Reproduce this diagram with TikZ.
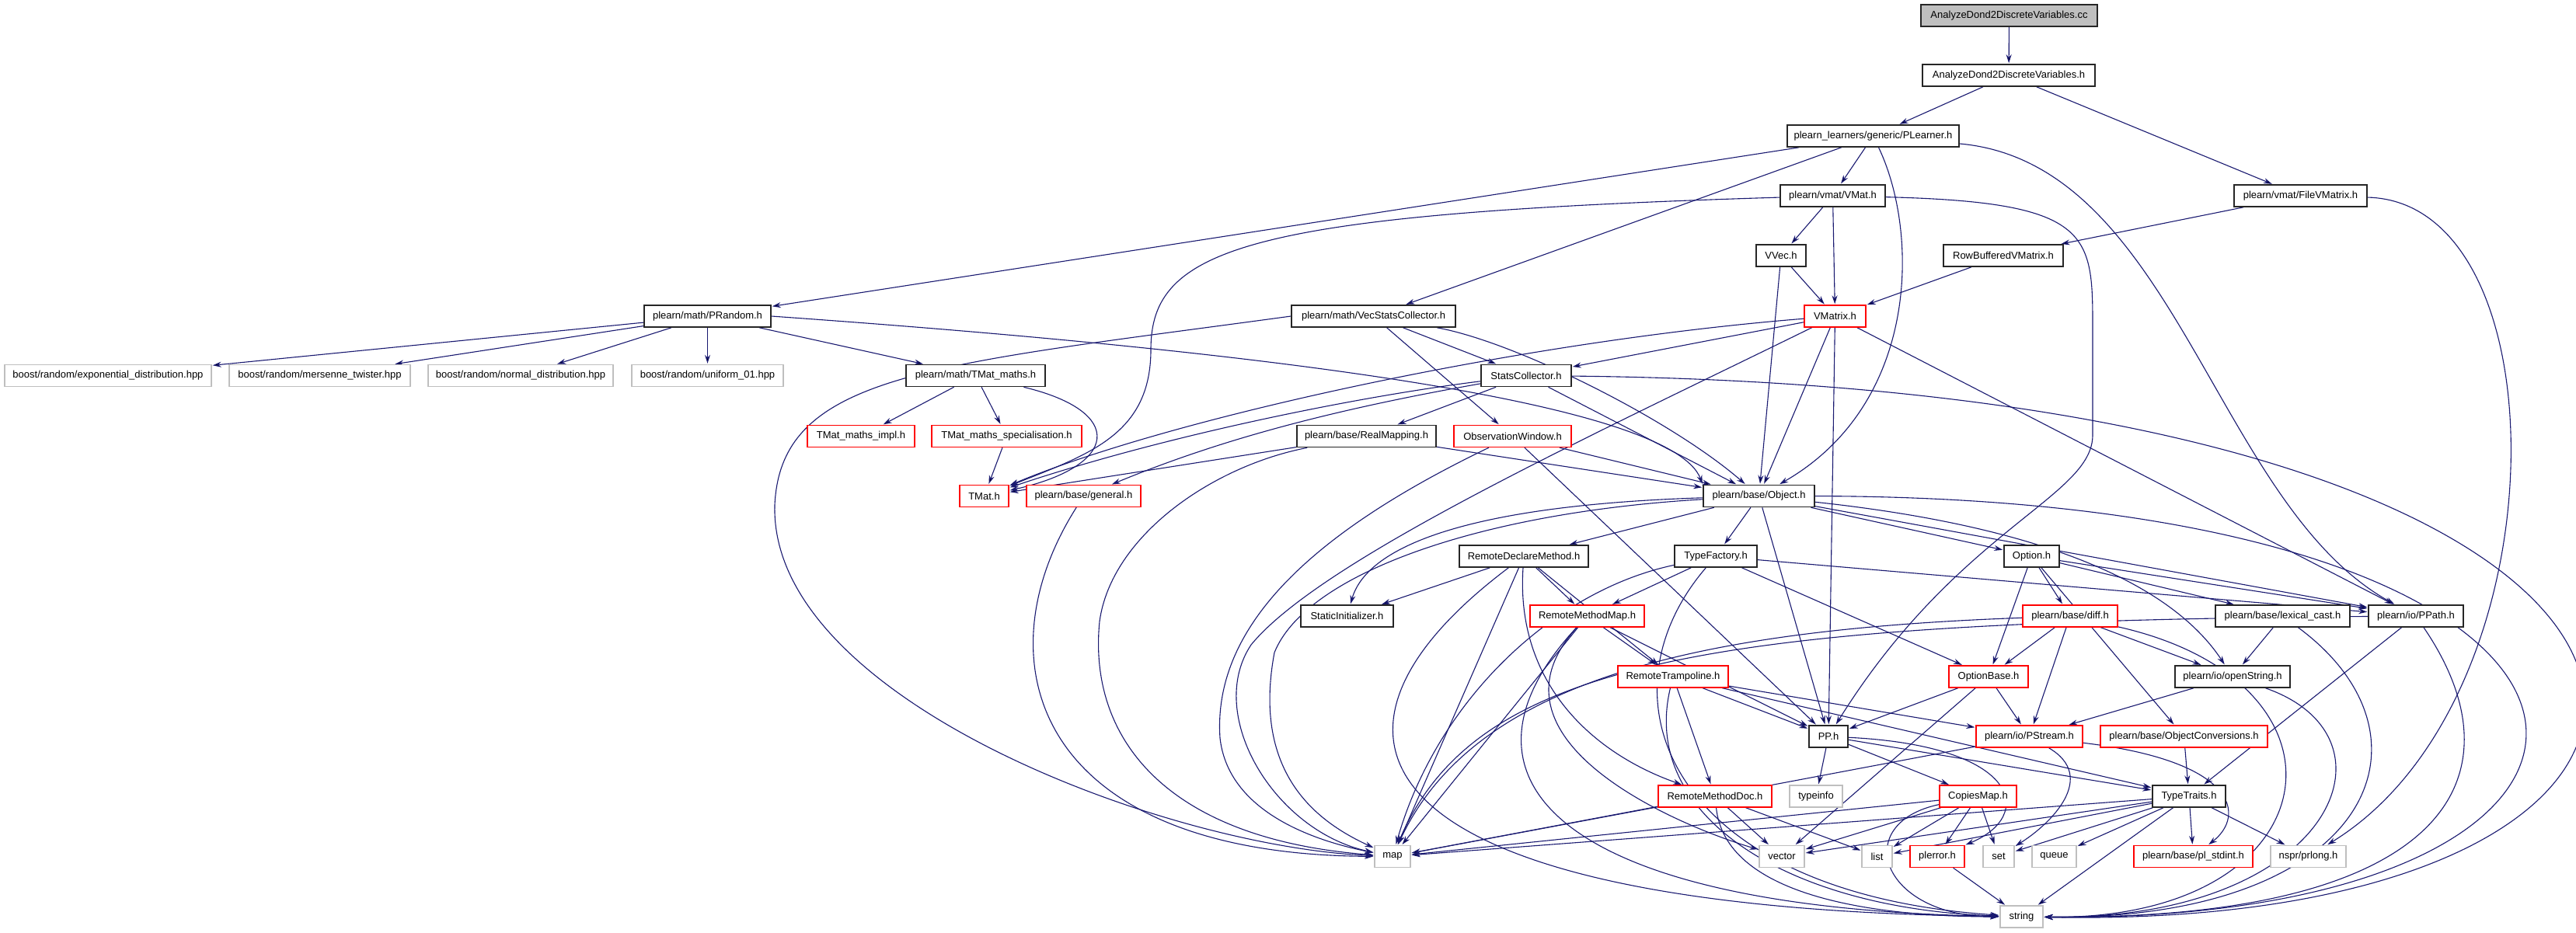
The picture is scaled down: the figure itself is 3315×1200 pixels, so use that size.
\documentclass[tikz,border=0pt]{standalone}
\usepackage{fontspec}
\setmainfont{Liberation Sans}
\usetikzlibrary{arrows.meta}
\definecolor{incblue}{RGB}{25,25,112}
\definecolor{sysgray}{RGB}{191,191,191}
\pgfdeclarelayer{edges}
\pgfsetlayers{edges,main}
\tikzstyle{every picture}=[x=1pt, y=1pt, >={Stealth[length=11pt,width=7pt]}, shorten >=1pt]
\tikzstyle{file}=[rectangle, draw=black!85, fill=white, line width=1.6pt, minimum height=28pt, inner sep=0pt,%
	font=\fontsize{13}{15}\selectfont]
\tikzstyle{redfile}=[file, draw=red, line width=1.4pt]
\tikzstyle{sysfile}=[file, draw=sysgray, line width=1.4pt]
\tikzstyle{rootfile}=[file, fill=sysgray]
\tikzstyle{inc}=[->, draw=incblue, line width=1.1pt]

\begin{document}
\begin{tikzpicture}
\useasboundingbox (0,0) rectangle (3315,-1200);
\node[rootfile, minimum width=227pt] (cc) at (2585.5,-20) {AnalyzeDond2DiscreteVariables.cc};
\node[file, minimum width=222pt] (dondh) at (2585,-97) {AnalyzeDond2DiscreteVariables.h};
\node[file, minimum width=221pt] (plearner) at (2410.5,-175) {plearn\_learners/generic/PLearner.h};
\node[file, minimum width=135pt] (vmat) at (2358.5,-252) {plearn/vmat/VMat.h};
\node[file, minimum width=171pt] (filevmat) at (2960.5,-252) {plearn/vmat/FileVMatrix.h};
\node[file, minimum width=64pt] (vvec) at (2292,-329) {VVec.h};
\node[file, minimum width=154pt] (rowbuf) at (2578,-329) {RowBufferedVMatrix.h};
\node[file, minimum width=163pt] (prandom) at (910.5,-407) {plearn/math/PRandom.h};
\node[file, minimum width=211pt] (vecstats) at (1767.5,-407) {plearn/math/VecStatsCollector.h};
\node[redfile, minimum width=79pt] (vmatrix) at (2361.5,-407) {VMatrix.h};
\node[sysfile, minimum width=266pt] (bexp) at (139,-483.5) {boost/random/exponential\_distribution.hpp};
\node[sysfile, minimum width=233pt] (bmt) at (411.5,-483.5) {boost/random/mersenne\_twister.hpp};
\node[sysfile, minimum width=238pt] (bnorm) at (670,-483.5) {boost/random/normal\_distribution.hpp};
\node[sysfile, minimum width=195pt] (bunif) at (910.5,-483.5) {boost/random/uniform\_01.hpp};
\node[file, minimum width=179pt] (tmatmaths) at (1255.5,-483.5) {plearn/math/TMat\_maths.h};
\node[file, minimum width=116pt] (stats) at (1964,-483.5) {StatsCollector.h};
\node[redfile, minimum width=138pt] (tmatimpl) at (1108,-561.5) {TMat\_maths\_impl.h};
\node[redfile, minimum width=193pt] (tmatspec) at (1295.5,-561.5) {TMat\_maths\_specialisation.h};
\node[file, minimum width=179pt] (realmap) at (1758.5,-561.5) {plearn/base/RealMapping.h};
\node[redfile, minimum width=151pt] (obswin) at (1946.5,-561.5) {ObservationWindow.h};
\node[redfile, minimum width=63pt] (tmat) at (1266.5,-638.5) {TMat.h};
\node[redfile, minimum width=147pt] (general) at (1394.5,-638.5) {plearn/base/general.h};
\node[file, minimum width=143pt] (object) at (2263.5,-638.5) {plearn/base/Object.h};
\node[file, minimum width=166pt] (rdm) at (1961,-716) {RemoteDeclareMethod.h};
\node[file, minimum width=106pt] (typefac) at (2208,-716) {TypeFactory.h};
\node[file, minimum width=71pt] (option) at (2614.5,-716) {Option.h};
\node[file, minimum width=119pt] (staticinit) at (1733.5,-793) {StaticInitializer.h};
\node[redfile, minimum width=147pt] (rmmap) at (2042.5,-793) {RemoteMethodMap.h};
\node[redfile, minimum width=122pt] (diff) at (2664,-793) {plearn/base/diff.h};
\node[file, minimum width=173pt] (lexcast) at (2937.5,-793) {plearn/base/lexical\_cast.h};
\node[file, minimum width=122pt] (ppath) at (3109,-793) {plearn/io/PPath.h};
\node[redfile, minimum width=142pt] (rtramp) at (2153,-871) {RemoteTrampoline.h};
\node[redfile, minimum width=102pt] (optbase) at (2559,-871) {OptionBase.h};
\node[file, minimum width=148pt] (openstr) at (2873,-871) {plearn/io/openString.h};
\node[file, minimum width=50pt] (pp) at (2353,-948) {PP.h};
\node[redfile, minimum width=137pt] (pstream) at (2611.5,-948) {plearn/io/PStream.h};
\node[redfile, minimum width=215pt] (objconv) at (2810.5,-948) {plearn/base/ObjectConversions.h};
\node[redfile, minimum width=146pt] (rmdoc) at (2207,-1025) {RemoteMethodDoc.h};
\node[sysfile, minimum width=68pt] (typeinfo) at (2337,-1025) {typeinfo};
\node[redfile, minimum width=99pt] (copiesmap) at (2545.5,-1025) {CopiesMap.h};
\node[file, minimum width=94pt] (typetraits) at (2817,-1025) {TypeTraits.h};
\node[sysfile, minimum width=46pt] (map) at (1792,-1102.5) {map};
\node[sysfile, minimum width=58pt] (vector) at (2293,-1102.5) {vector};
\node[sysfile, minimum width=39pt] (list) at (2415.5,-1102.5) {list};
\node[redfile, minimum width=70pt] (plerror) at (2493,-1102.5) {plerror.h};
\node[sysfile, minimum width=40pt] (set) at (2572,-1102.5) {set};
\node[sysfile, minimum width=57pt] (queue) at (2643.5,-1102.5) {queue};
\node[redfile, minimum width=153pt] (plstdint) at (2822.5,-1102.5) {plearn/base/pl\_stdint.h};
\node[sysfile, minimum width=97pt] (prlong) at (2970.5,-1102.5) {nspr/prlong.h};
\node[sysfile, minimum width=55pt] (string) at (2601.5,-1180) {string};

\begin{pgfonlayer}{edges}
\path[inc] (cc) edge (dondh);
\path[inc] (dondh) edge (plearner) edge (filevmat);
\path[inc] (plearner) edge (prandom) edge (vecstats) edge (vmat);
\draw[inc] (plearner) .. controls (2470,-300) and (2470,-520) .. (object);
\draw[inc] (plearner) .. controls (2800,-210) and (2850,-650) .. (ppath);
\path[inc] (vmat) edge (vvec) edge (vmatrix);
\draw[inc] (vmat) .. controls (1600,-275) and (1481,-320) .. (1481,-450)
	.. controls (1481,-560) and (1400,-585) .. (tmat);
\draw[inc] (vmat) .. controls (2690,-260) and (2693,-300) .. (2693,-420) -- (2693,-560)
	.. controls (2693,-640) and (2520,-680) .. (pp);
\path[inc] (filevmat) edge (rowbuf);
\draw[inc] (filevmat) .. controls (3300,-260) and (3300,-900) .. (prlong);
\path[inc] (vvec) edge (vmatrix) edge (object);
\path[inc] (rowbuf) edge (vmatrix);
\path[inc] (prandom) edge (bexp) edge (bmt) edge (bnorm) edge (bunif) edge (tmatmaths);
\draw[inc] (prandom.east) .. controls (1600,-450) and (2150,-515) .. (object.north west);
\path[inc] (vecstats) edge (stats) edge (obswin);
\draw[inc] (vecstats) .. controls (1950,-440) and (2150,-540) .. (object);
\draw[inc] (vecstats.west) .. controls (1200,-470) and (1005,-480) .. (997,-650)
	.. controls (990,-900) and (1500,-1090) .. (map);
\path[inc] (vmatrix) edge (stats) edge (object) edge (pp) edge (ppath);
\draw[inc] (vmatrix) .. controls (2050,-560) and (1700,-720) .. (1610,-830)
	.. controls (1550,-920) and (1640,-1070) .. (map);
\draw[inc] (vmatrix) .. controls (1950,-440) and (1500,-540) .. (tmat);
\path[inc] (tmatmaths) edge (tmatimpl) edge (tmatspec);
\draw[inc] (tmatmaths) .. controls (1450,-530) and (1440,-600) .. (tmat);
\path[inc] (tmatspec) edge (tmat);
\path[inc] (stats) edge (realmap) edge (object);
\draw[inc] (stats) .. controls (1750,-510) and (1500,-560) .. (tmat);
\draw[inc] (stats) .. controls (1700,-530) and (1560,-570) .. (general);
\draw[inc] (stats) .. controls (3640,-500) and (3640,-1200) .. (string);
\path[inc] (realmap) edge (tmat) edge (object);
\draw[inc] (realmap) .. controls (1560,-600) and (1430,-690) .. (1415,-800)
	.. controls (1400,-950) and (1500,-1080) .. (map);
\draw[inc] (general) .. controls (1260,-850) and (1330,-1100) .. (map);
\path[inc] (obswin) edge (object) edge (pp);
\draw[inc] (obswin) .. controls (1700,-680) and (1560,-800) .. (1570,-950)
	.. controls (1580,-1040) and (1680,-1080) .. (map);
\path[inc] (object) edge (rdm) edge (typefac) edge (pp) edge (option) edge (ppath);
\draw[inc] (object) .. controls (2650,-680) and (2800,-760) .. (openstr);
\draw[inc] (object) .. controls (1900,-650) and (1760,-700) .. (staticinit);
\draw[inc] (object) .. controls (1900,-660) and (1680,-740) .. (1640,-840)
	.. controls (1610,-1000) and (1700,-1060) .. (map);
\draw[inc] (object) .. controls (3500,-640) and (3500,-1190) .. (string);
\path[inc] (rdm) edge (staticinit) edge (rmmap) edge (rtramp) edge (map);
\draw[inc] (rdm) .. controls (1950,-880) and (2050,-970) .. (rmdoc);
\draw[inc] (rdm) .. controls (1650,-950) and (1750,-1170) .. (string);
\path[inc] (typefac) edge (rmmap) edge (optbase) edge (ppath);
\draw[inc] (typefac) .. controls (2000,-760) and (1850,-900) .. (map);
\draw[inc] (typefac) .. controls (2050,-900) and (2150,-1150) .. (string);
\path[inc] (option) edge (optbase) edge (diff) edge (lexcast) edge (ppath) edge (objconv);
\path[inc] (rmmap) edge (rtramp) edge (pp) edge (map);
\draw[inc] (rmmap) .. controls (1900,-950) and (2150,-1060) .. (vector);
\draw[inc] (rmmap) .. controls (1850,-1000) and (2000,-1170) .. (string);
\path[inc] (diff) edge (optbase) edge (pstream) edge (openstr);
\draw[inc] (diff) .. controls (2200,-810) and (1900,-870) .. (map);
\draw[inc] (diff) .. controls (3050,-880) and (3000,-1185) .. (string);
\path[inc] (lexcast) edge (openstr);
\draw[inc] (lexcast) .. controls (3150,-950) and (3050,-1185) .. (string);
\path[inc] (ppath) edge (typetraits);
\draw[inc] (ppath) .. controls (2200,-800) and (1900,-850) .. (map);
\draw[inc] (ppath) .. controls (3250,-1000) and (3150,-1185) .. (string);
\path[inc] (rtramp) edge (rmdoc) edge (pp) edge (pstream) edge (typetraits);
\draw[inc] (rtramp) .. controls (2110,-1050) and (2300,-1170) .. (string);
\path[inc] (optbase) edge (pp) edge (pstream) edge (vector);
\path[inc] (openstr) edge (pstream);
\draw[inc] (openstr) .. controls (3100,-950) and (3000,-1185) .. (string);
\path[inc] (pp) edge (typeinfo) edge (copiesmap) edge (typetraits);
\draw[inc] (pp) .. controls (2600,-960) and (2620,-1050) .. (plerror);
\path[inc] (pstream) edge (map);
\draw[inc] (pstream) .. controls (2700,-1000) and (2640,-1060) .. (set);
\draw[inc] (pstream) .. controls (2880,-980) and (2890,-1050) .. (plstdint);
\path[inc] (objconv) edge (typetraits);
\path[inc] (rmdoc) edge (vector) edge (list) edge (map);
\draw[inc] (rmdoc) .. controls (2220,-1150) and (2400,-1180) .. (string);
\path[inc] (copiesmap) edge (map) edge (vector) edge (list) edge (plerror) edge (set);
\draw[inc] (copiesmap) .. controls (2380,-1060) and (2420,-1180) .. (string);
\path[inc] (typetraits) edge (map) edge (vector) edge (list) edge (set) edge (queue) edge (plstdint) edge (prlong) edge (string);
\path[inc] (plerror) edge (string);
\end{pgfonlayer}
\end{tikzpicture}
\end{document}
